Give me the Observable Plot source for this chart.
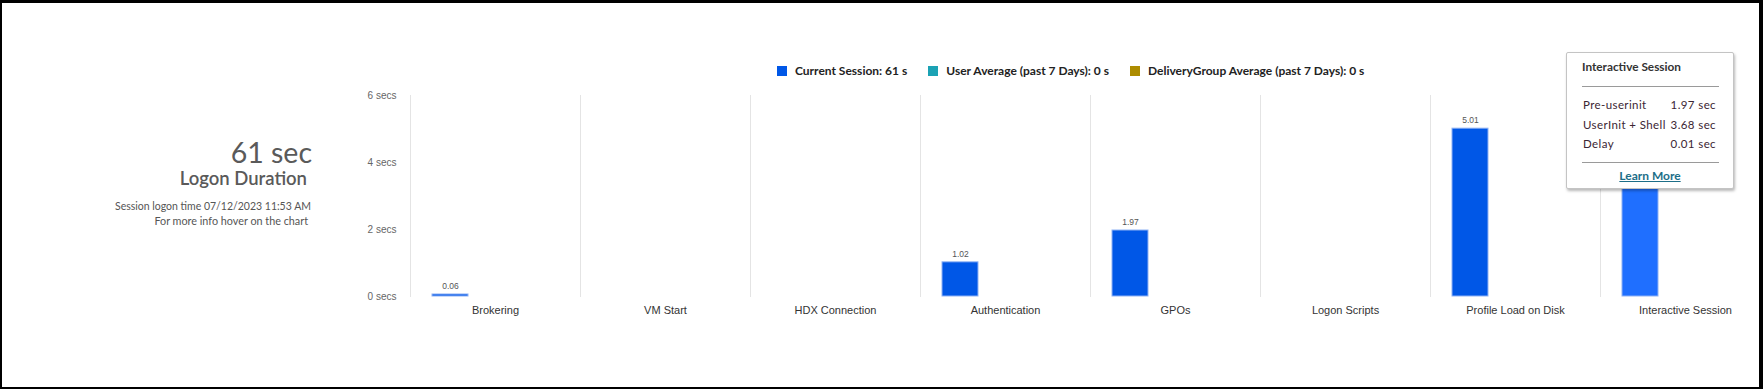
<!DOCTYPE html>
<html>
<head>
<meta charset="utf-8">
<script src="https://cdn.jsdelivr.net/npm/d3@7"></script>
<script src="https://cdn.jsdelivr.net/npm/@observablehq/plot@0.6"></script>
<style>
  html, body { margin: 0; padding: 0; background: #fff; }
  #page { position: relative; width: 1763px; height: 389px; overflow: hidden; background: #fff; }
  #chart { position: absolute; left: 0; top: 0; width: 1780px; }
  #chart svg { max-width: none !important; }
  #frame { position: absolute; left: 0; top: 0; width: 1763px; height: 389px; box-sizing: border-box;
           border-style: solid; border-color: #000; border-width: 3px 4px 2px 2px; pointer-events: none; }
  .t { position: absolute; white-space: nowrap; line-height: 1; font-family: Lato, "Open Sans", sans-serif; }
  #legend { position: absolute; left: 777px; top: 65px; display: flex; align-items: center;
            font-family: Lato, "Open Sans", sans-serif; font-weight: 700; font-size: 12px; line-height: 12px; color: #222; white-space: nowrap; }
  #legend .item { display: flex; align-items: center; margin-right: 21px; }
  #legend .sw { width: 10px; height: 10px; margin-right: 8px; }
  #tip { position: absolute; left: 1566px; top: 52px; width: 168px; height: 137px; box-sizing: border-box;
         background: #fff; border: 1px solid #c4c4c4; border-radius: 2px; box-shadow: 1px 2px 3px rgba(0,0,0,0.28);
         font-family: Lato, "Open Sans", sans-serif; }
  #tip .tt { position: absolute; white-space: nowrap; line-height: 1; }
  #tip .rule { position: absolute; left: 15px; width: 137px; height: 1px; background: #9a9a9a; }
</style>
</head>
<body>
<div id="page">
  <div id="chart"></div>
  <div id="left"></div>
  <div id="legend"></div>
  <div id="tip"></div>
  <div id="frame"></div>
</div>
<script>
// ---------- data ----------
const categories = ["Brokering", "VM Start", "HDX Connection", "Authentication", "GPOs", "Logon Scripts", "Profile Load on Disk", "Interactive Session"];
const seriesNames = ["Current Session", "User Average (past 7 Days)", "DeliveryGroup Average (past 7 Days)"];
const seriesTotals = [61, 0, 0];
const seriesColors = ["#0057E7", "#1BA2B4", "#AD8C00"];
const currentSession = [0.06, 0, 0, 1.02, 1.97, 0, 5.01, 5.66];
const userAverage = [0, 0, 0, 0, 0, 0, 0, 0];
const deliveryGroupAverage = [0, 0, 0, 0, 0, 0, 0, 0];
const yTicks = [0, 2, 4, 6];
const hoveredCategory = "Interactive Session";
const hoverColor = "#1F6FFF";
const totalDuration = "61 sec";
const sessionTime = "07/12/2023 11:53 AM";
const tooltipRows = [["Pre-userinit", "1.97 sec"], ["UserInit + Shell", "3.68 sec"], ["Delay", "0.01 sec"]];

// ---------- table ----------
const seriesValues = [currentSession, userAverage, deliveryGroupAverage];
const data = categories.flatMap((c, i) => seriesNames.map((s, j) => ({cat: c, series: s, value: seriesValues[j][i]})));
const colorOf = d => d.cat === hoveredCategory && d.series === seriesNames[0] ? hoverColor : seriesColors[seriesNames.indexOf(d.series)];

// ---------- chart ----------
const chart = Plot.plot({
  width: 1780,
  height: 389,
  marginLeft: 410,
  marginRight: 10,
  marginTop: 95,
  marginBottom: 93,
  style: {fontFamily: "'Liberation Sans', Arial, sans-serif", fontSize: "11px", background: "transparent", overflow: "visible", maxWidth: "none"},
  fx: {domain: categories, padding: 0, label: null},
  x: {domain: seriesNames, paddingInner: 0, paddingOuter: 0.861, align: 0.355, axis: null},
  y: {domain: [0, 6], label: null},
  marks: [
    Plot.frame({anchor: "left", stroke: "#e4e4e4"}),
    Plot.axisY({ticks: yTicks, tickSize: 0, tickPadding: 14, tickFormat: d => `${d} secs`, fontSize: 10, fill: "#666", label: null}),
    Plot.axisFx({anchor: "bottom", tickSize: 0, tickPadding: 10, fill: "#333", fontSize: 11, label: null}),
    Plot.barY(data, {fx: "cat", x: "series", y: "value", fill: colorOf, stroke: d => d.value > 0 ? "#8fb2f4" : "none", strokeWidth: 1}),
    // the hovered column's value label sits under the tooltip, so it is not drawn
    Plot.text(data.filter(d => d.value > 0 && d.cat !== hoveredCategory), {fx: "cat", x: "series", y: "value", text: d => d.value.toFixed(2), dy: -8, fontSize: 8.5, fill: "#555"})
  ]
});
chart.style.maxWidth = "none";
document.getElementById("chart").appendChild(chart);

// ---------- left summary ----------
const left = document.getElementById("left");
function addText(parent, cls, txt, style) {
  const el = document.createElement("div");
  el.className = cls;
  el.textContent = txt;
  Object.assign(el.style, style);
  parent.appendChild(el);
  return el;
}
addText(left, "t", totalDuration, {right: (1763 - 312) + "px", top: "138px", fontSize: "28.5px", color: "#5a5a5a"});
addText(left, "t", "Logon Duration", {right: (1763 - 307) + "px", top: "168.5px", fontSize: "18.5px", fontWeight: "600", color: "#5a5a5a"});
addText(left, "t", "Session logon time " + sessionTime, {right: (1763 - 311) + "px", top: "200.6px", fontSize: "10.5px", color: "#555"});
addText(left, "t", "For more info hover on the chart", {right: (1763 - 308) + "px", top: "216.2px", fontSize: "10.8px", color: "#555"});

// ---------- legend ----------
const legend = document.getElementById("legend");
seriesNames.forEach((s, j) => {
  const item = document.createElement("div");
  item.className = "item";
  const sw = document.createElement("span");
  sw.className = "sw";
  sw.style.background = seriesColors[j];
  const lab = document.createElement("span");
  lab.textContent = `${s}: ${seriesTotals[j]} s`;
  item.appendChild(sw);
  item.appendChild(lab);
  legend.appendChild(item);
});

// ---------- tooltip ----------
const tip = document.getElementById("tip");
addText(tip, "tt", hoveredCategory, {left: "15px", top: "7.5px", fontSize: "11.8px", fontWeight: "700", color: "#333"});
const r1 = document.createElement("div"); r1.className = "rule"; r1.style.top = "33px"; tip.appendChild(r1);
tooltipRows.forEach(([k, v], i) => {
  const top = [46, 66, 85][i];
  addText(tip, "tt", k, {left: "16px", top: top + "px", fontSize: "11.5px", letterSpacing: "0.4px", color: "#3b2633"});
  addText(tip, "tt", v, {right: "17px", top: top + "px", fontSize: "11.5px", letterSpacing: "0.4px", color: "#3b2633"});
});
const r2 = document.createElement("div"); r2.className = "rule"; r2.style.top = "108.5px"; tip.appendChild(r2);
addText(tip, "tt", "Learn More", {left: "0", width: "166px", textAlign: "center", top: "117px", fontSize: "12px", fontWeight: "700", color: "#1d6e88", textDecoration: "underline"});
</script>
</body>
</html>
